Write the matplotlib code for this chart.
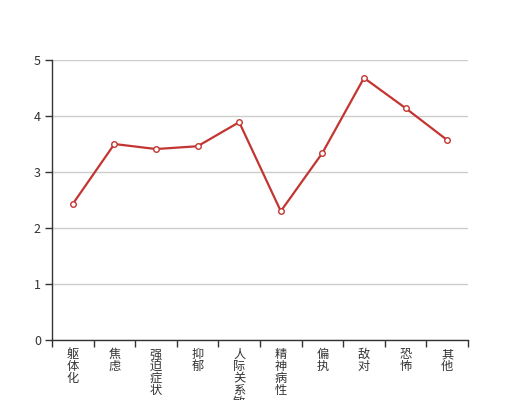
import matplotlib.pyplot as plt
import numpy as np

plt.rcParams['font.family'] = ['Noto Sans CJK SC', 'DejaVu Sans']

categories = ['躯体化', '焦虑', '强迫症状', '抑郁', '人际关系敏感',
              '精神病性', '偏执', '敌对', '恐怖', '其他']
values = [2.43, 3.5, 3.41, 3.46, 3.89, 2.3, 3.34, 4.68, 4.14, 3.57]
y_ticks = [0, 1, 2, 3, 4, 5]

line_color = '#c23531'
axis_color = '#333333'

fig = plt.figure(figsize=(5.2, 4.0), dpi=100)
ax = fig.add_axes([0.1, 0.15, 0.8, 0.7])

x = np.arange(len(categories))
ax.plot(x, values, color=line_color, lw=1.6, marker='o', ms=4,
        mfc='white', mec=line_color, mew=1, zorder=3)

ax.set_xlim(-0.5, len(categories) - 0.5)
ax.set_ylim(0, 5)
ax.set_yticks(y_ticks)
ax.grid(axis='y', color='#cccccc', lw=1)
ax.set_axisbelow(True)

# category boundaries get the ticks, labels sit in the middle
ax.set_xticks(np.arange(-0.5, len(categories)), minor=False)
ax.set_xticklabels([])
ax.tick_params(axis='x', length=5, color=axis_color, width=1, direction='out')
for i, name in enumerate(categories):
    ax.annotate('\n'.join(name), xy=(i, 0), xycoords=('data', 'axes fraction'),
                xytext=(0, -6), textcoords='offset points',
                ha='center', va='top', fontsize=8.8, color=axis_color,
                linespacing=0.88, annotation_clip=False)

ax.tick_params(axis='y', length=5, color=axis_color, width=1,
               labelsize=9, labelcolor=axis_color, pad=3)

for side in ['top', 'right']:
    ax.spines[side].set_visible(False)
for side in ['left', 'bottom']:
    ax.spines[side].set_color(axis_color)
    ax.spines[side].set_linewidth(1)

fig.savefig('out.png', dpi=100)
